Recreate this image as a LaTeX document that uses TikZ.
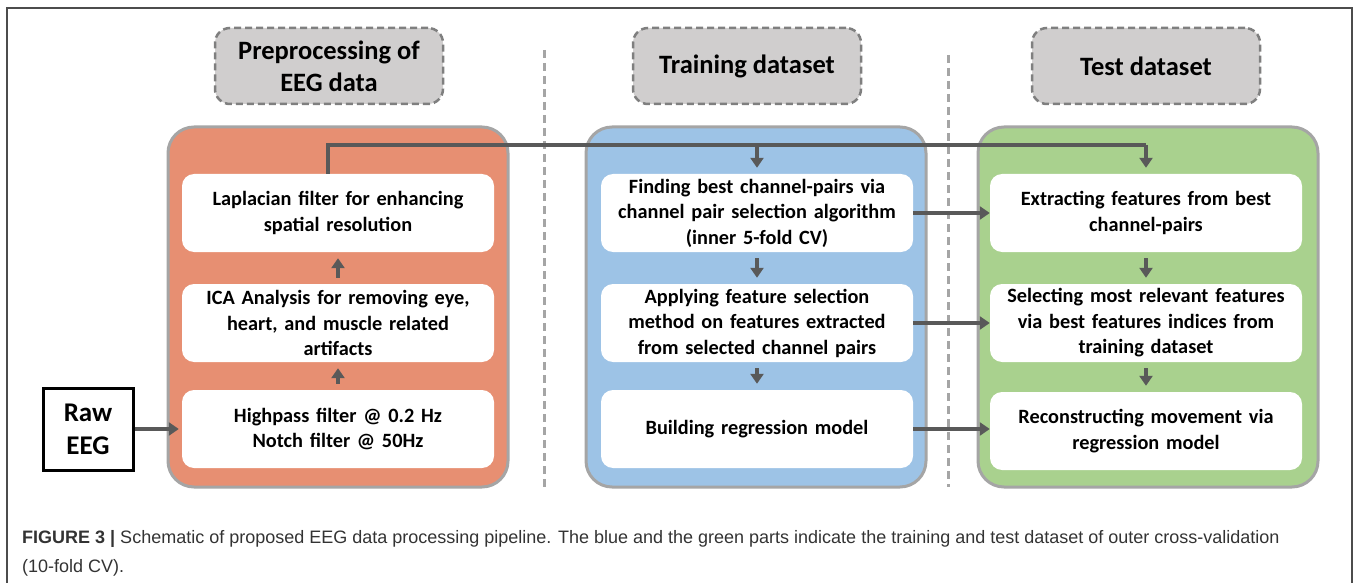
\documentclass[tikz,border=0pt]{standalone}
\usepackage{fontspec}
\setmainfont{Carlito}
\newfontfamily\capfont{Liberation Sans}
\usetikzlibrary{arrows.meta}
\definecolor{orangefill}{HTML}{E78F72}
\definecolor{bluefill}{HTML}{9DC3E6}
\definecolor{greenfill}{HTML}{A9D18E}
\definecolor{contborder}{HTML}{A5A5A5}
\definecolor{headfill}{HTML}{D0CECE}
\definecolor{headborder}{HTML}{7F7F7F}
\definecolor{arrowgray}{HTML}{595959}
\definecolor{capgray}{HTML}{333333}
\tikzset{
  cont/.style={draw=contborder, line width=3pt, rounded corners=26pt, minimum width=340pt, minimum height=360pt, inner sep=0pt},
  wbox/.style={fill=white, rounded corners=12pt, minimum width=312pt, minimum height=78pt, inner sep=0pt, text width=310pt, align=center, font=\bfseries\fontsize{20.3}{25.5}\selectfont},
  head/.style={draw=headborder, fill=headfill, dashed, dash pattern=on 7pt off 4pt, line width=2.5pt, rounded corners=15pt, minimum width=228pt, minimum height=76pt, inner sep=0pt, align=center, font=\bfseries\fontsize{26.5}{32}\selectfont},
  sep/.style={draw=contborder, line width=3pt, dash pattern=on 8pt off 5pt},
  arr/.style={draw=arrowgray, line width=3.6pt, -{Triangle[length=10pt,width=13pt]}},
  conn/.style={draw=arrowgray, line width=3.6pt},
}
\begin{document}
\begin{tikzpicture}[x=1pt,y=-1pt]
\useasboundingbox (0,0) rectangle (1358,583);
% outer frame
\draw[line width=1.5pt, draw=black!70] (7,583) -- (7,8) -- (1352,8) -- (1352,583);
% separators
\draw[sep] (544,50) -- (544,487);
\draw[sep] (948,55) -- (948,487);
% headers
\node[head] (h1) at (329,66) {Preprocessing of\\EEG data};
\node[head] (h2) at (747,66) {Training dataset};
\node[head] (h3) at (1146,66) {Test dataset};
% containers
\node[cont, fill=orangefill] (c1) at (338,307) {};
\node[cont, fill=bluefill] (c2) at (756,307) {};
\node[cont, fill=greenfill] (c3) at (1148,307) {};
% white boxes
\node[wbox] (lap) at (338,213) {Laplacian filter for enhancing\\spatial resolution};
\node[wbox] (ica) at (338,323) {ICA Analysis for removing eye,\\heart, and muscle related\\artifacts};
\node[wbox] (hp) at (338,429) {Highpass filter @ 0.2 Hz\\Notch filter @ 50Hz};
\node[wbox] (fin) at (757,213) {Finding best channel-pairs via\\channel pair selection algorithm\\(inner 5-fold CV)};
\node[wbox] (app) at (757,323) {Applying feature selection\\method on features extracted\\from selected channel pairs};
\node[wbox] (bld) at (757,429) {Building regression model};
\node[wbox] (ext) at (1146,213) {Extracting features from best\\channel-pairs};
\node[wbox] (sel) at (1146,323) {Selecting most relevant features\\via best features indices from\\training dataset};
\node[wbox] (rec) at (1146,431) {Reconstructing movement via\\regression model};
% raw EEG
\node[draw=black, line width=3pt, minimum width=90pt, minimum height=82pt, inner sep=0pt, align=center, font=\bfseries\fontsize{27}{33}\selectfont] (raw) at (88,429) {Raw\\EEG};
% arrows
\draw[arr, shorten >=3pt] (raw.east |- hp.west) -- (hp.west);
\draw[arr, shorten <=6pt, shorten >=6pt] (hp.north) -- (ica.south);
\draw[arr, shorten <=6pt, shorten >=6pt] (ica.north) -- (lap.south);
\draw[arr, shorten <=6pt, shorten >=6pt] (fin.south) -- (app.north);
\draw[arr, shorten <=6pt, shorten >=6pt] (app.south) -- (bld.north);
\draw[arr, shorten <=6pt, shorten >=6pt] (ext.south) -- (sel.north);
\draw[arr, shorten <=6pt, shorten >=6pt] (sel.south) -- (rec.north);
\draw[arr] (fin.east) -- (ext.west |- fin.east);
\draw[arr] (app.east) -- (sel.west |- app.east);
\draw[arr] (bld.east) -- (rec.west |- bld.east);
% top connector
\coordinate (topy) at (0,145);
\draw[conn] ([xshift=-10pt]lap.north) -- ([xshift=-10pt]lap.north |- topy) -- (ext.north |- topy);
\draw[arr, shorten >=6pt] (ext.north |- topy) -- (ext.north);
\draw[arr, shorten >=6pt] (fin.north |- topy) -- (fin.north);
% caption
\node[anchor=north west, inner sep=0pt, align=left, text=capgray, font=\capfont\fontsize{18}{29}\selectfont] (cap) at (22,530) {\textbf{FIGURE 3 |} Schematic of proposed EEG data processing pipeline. The blue and the green parts indicate the training and test dataset of outer cross-validation\\(10-fold CV).};
\end{tikzpicture}
\end{document}
